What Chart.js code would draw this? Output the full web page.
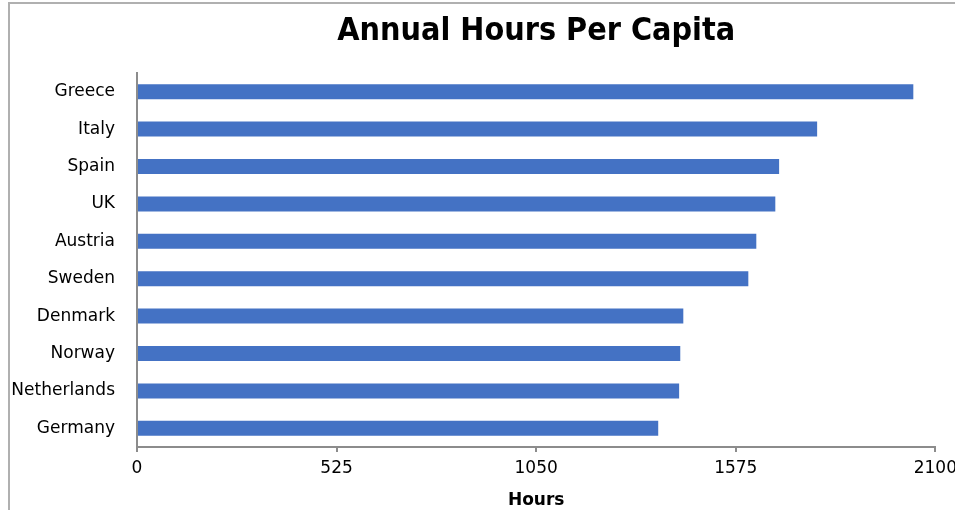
<!DOCTYPE html>
<html>
<head>
<meta charset="utf-8">
<script src="https://cdn.jsdelivr.net/npm/chart.js@4"></script>
<style>
  html, body { margin: 0; padding: 0; background: #fff; overflow: hidden; }
  body { width: 955px; height: 510px; position: relative; }
  .frame { position: absolute; left: 8px; top: 2px; width: 1200px; height: 800px; border: 2px solid #b0b0b0; box-sizing: border-box; }
  .wrap { position: absolute; left: 0; top: 0; width: 963px; height: 515px; }
</style>
</head>
<body>
<div class="frame"></div>
<div class="wrap"><canvas id="chart"></canvas></div>
<script>
const countries = ['Greece', 'Italy', 'Spain', 'UK', 'Austria', 'Sweden', 'Denmark', 'Norway', 'Netherlands', 'Germany'];
const hours = [2042, 1789, 1689, 1679, 1629, 1608, 1437, 1429, 1426, 1371];
const xTicks = [0, 525, 1050, 1575, 2100];

const FONT = "'DejaVu Sans', sans-serif";
const TITLE_FONT = "'DejaVu Sans Condensed', 'DejaVu Sans', sans-serif";
const AXIS_GREY = '#8c8c8c';

// title centred over the plot area rather than the canvas
const plotTitle = {
    id: 'plotTitle',
    afterDraw(chart) {
        const { ctx, chartArea } = chart;
        ctx.save();
        ctx.font = "bold 32px " + TITLE_FONT;
        ctx.fillStyle = '#000';
        ctx.textAlign = 'center';
        ctx.textBaseline = 'middle';
        ctx.fillText('Annual Hours Per Capita', (chartArea.left + chartArea.right) / 2, 32);
        ctx.restore();
    }
};

new Chart(document.getElementById('chart'), {
    type: 'bar',
    data: {
        labels: countries,
        datasets: [{
            label: 'Hours',
            data: hours,
            backgroundColor: '#4472C4',
            borderWidth: 0,
            categoryPercentage: 0.8,
            barPercentage: 0.5
        }]
    },
    options: {
        indexAxis: 'y',
        responsive: true,
        maintainAspectRatio: false,
        animation: false,
        layout: { padding: { top: 73, right: 22, left: 0, bottom: 0 } },
        plugins: {
            legend: { display: false },
            tooltip: { enabled: false }
        },
        scales: {
            x: {
                min: 0,
                max: 2100,
                afterBuildTicks(scale) {
                    scale.ticks = xTicks.map(v => ({ value: v }));
                },
                afterFit(scale) { scale.height = 68; },
                grid: {
                    display: true,
                    drawOnChartArea: false,
                    drawTicks: true,
                    tickLength: 5,
                    color: AXIS_GREY,
                    lineWidth: 2
                },
                border: { display: true, color: AXIS_GREY, width: 2 },
                ticks: {
                    color: '#000',
                    font: { family: FONT, size: 17 },
                    padding: 6,
                    maxRotation: 0,
                    autoSkip: false,
                    callback: v => String(v)
                },
                title: {
                    display: true,
                    text: 'Hours',
                    color: '#000',
                    font: { family: FONT, size: 17, weight: 'bold' },
                    padding: { top: 4, bottom: 4 }
                }
            },
            y: {
                afterFit(scale) { scale.width = 137; },
                grid: { display: false, drawTicks: false },
                border: { display: true, color: AXIS_GREY, width: 2 },
                ticks: {
                    color: '#000',
                    font: { family: FONT, size: 17 },
                    padding: 22
                }
            }
        }
    },
    plugins: [plotTitle]
});
</script>
</body>
</html>
